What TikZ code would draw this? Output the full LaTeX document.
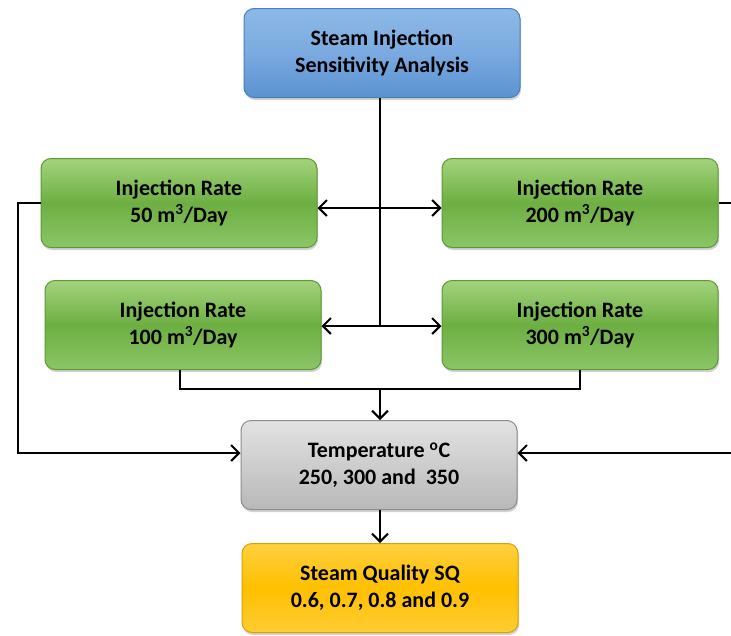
\documentclass[tikz,border=0pt]{standalone}
\usepackage{fontspec}
\setmainfont{Carlito}
\usetikzlibrary{arrows.meta,shadows}
\definecolor{bluetop}{HTML}{8DB9E6}
\definecolor{bluemid}{HTML}{7AAAE0}
\definecolor{bluebot}{HTML}{5A92D0}
\definecolor{blueline}{HTML}{4A7EBB}
\definecolor{greentop}{HTML}{A3D37C}
\definecolor{greenmid}{HTML}{6DAF42}
\definecolor{greenbot}{HTML}{8CC567}
\definecolor{greenline}{HTML}{5B9A33}
\definecolor{graytop}{HTML}{E2E2E2}
\definecolor{graymid}{HTML}{CDCDCD}
\definecolor{graybot}{HTML}{B8B8B8}
\definecolor{grayline}{HTML}{8C8C8C}
\definecolor{orangetop}{HTML}{FFD040}
\definecolor{orangemid}{HTML}{FFC000}
\definecolor{orangebot}{HTML}{FFCC33}
\definecolor{orangeline}{HTML}{D9A000}
\tikzset{
  box/.style={rounded corners=10pt, minimum width=276pt, minimum height=89pt,
    align=center, font=\fontsize{22}{26.5}\selectfont\bfseries, line width=1pt,
    drop shadow={opacity=0.35, shadow xshift=1pt, shadow yshift=-2.5pt}},
  bluebox/.style={box, draw=blueline, top color=bluetop, bottom color=bluebot, middle color=bluemid},
  greenbox/.style={box, draw=greenline, top color=greentop, bottom color=greenbot, middle color=greenmid},
  graybox/.style={box, draw=grayline, top color=graytop, bottom color=graybot, middle color=graymid},
  orangebox/.style={box, draw=orangeline, top color=orangetop, bottom color=orangebot, middle color=orangemid},
  conn/.style={line width=2pt, black},
  arr/.style={conn, -{Straight Barb[length=8pt, width=16pt, line width=2pt]}},
}
\begin{document}
\begin{tikzpicture}[x=1pt, y=-1pt]
\clip (0,0) rectangle (731,635);
\fill[white] (0,0) rectangle (731,635);
\node[bluebox] (top) at (382,53) {Steam Injection\\Sensitivity Analysis};
\node[greenbox] (r50) at (179,203) {Injection Rate\\50 m\textsuperscript{3}/Day};
\node[greenbox] (r200) at (580,203) {Injection Rate\\200 m\textsuperscript{3}/Day};
\node[greenbox] (r100) at (183,325) {Injection Rate\\100 m\textsuperscript{3}/Day};
\node[greenbox] (r300) at (580,325) {Injection Rate\\300 m\textsuperscript{3}/Day};
\node[graybox] (temp) at (379,465) {Temperature \textsuperscript{o}C\\250, 300 and\ \ 350};
\node[orangebox] (sq) at (380,588) {Steam Quality SQ\\0.6, 0.7, 0.8 and 0.9};
\coordinate (j1) at (380,208);
\coordinate (j2) at (380,326);
\coordinate (b) at (380,389);
\coordinate (L) at (18,453);
\coordinate (R) at (737,453);
\draw[conn] (top.south -| j2) -- (j2);
\draw[arr] (j1) -- (r50.east |- j1);
\draw[arr] (j1) -- (r200.west |- j1);
\draw[arr] (j2) -- (r100.east |- j2);
\draw[arr] (j2) -- (r300.west |- j2);
\draw[conn] (r100.south -| 180,0) |- (r300.south |- b) -- (r300.south);
\draw[arr] (b) -- (temp.north -| b);
\draw[arr] (r50.west) -| (L) -- (temp.west |- L);
\draw[arr] (r200.east) -| (R) -- (temp.east |- R);
\draw[arr] (temp.south -| sq.north) -- (sq.north);
\end{tikzpicture}
\end{document}
